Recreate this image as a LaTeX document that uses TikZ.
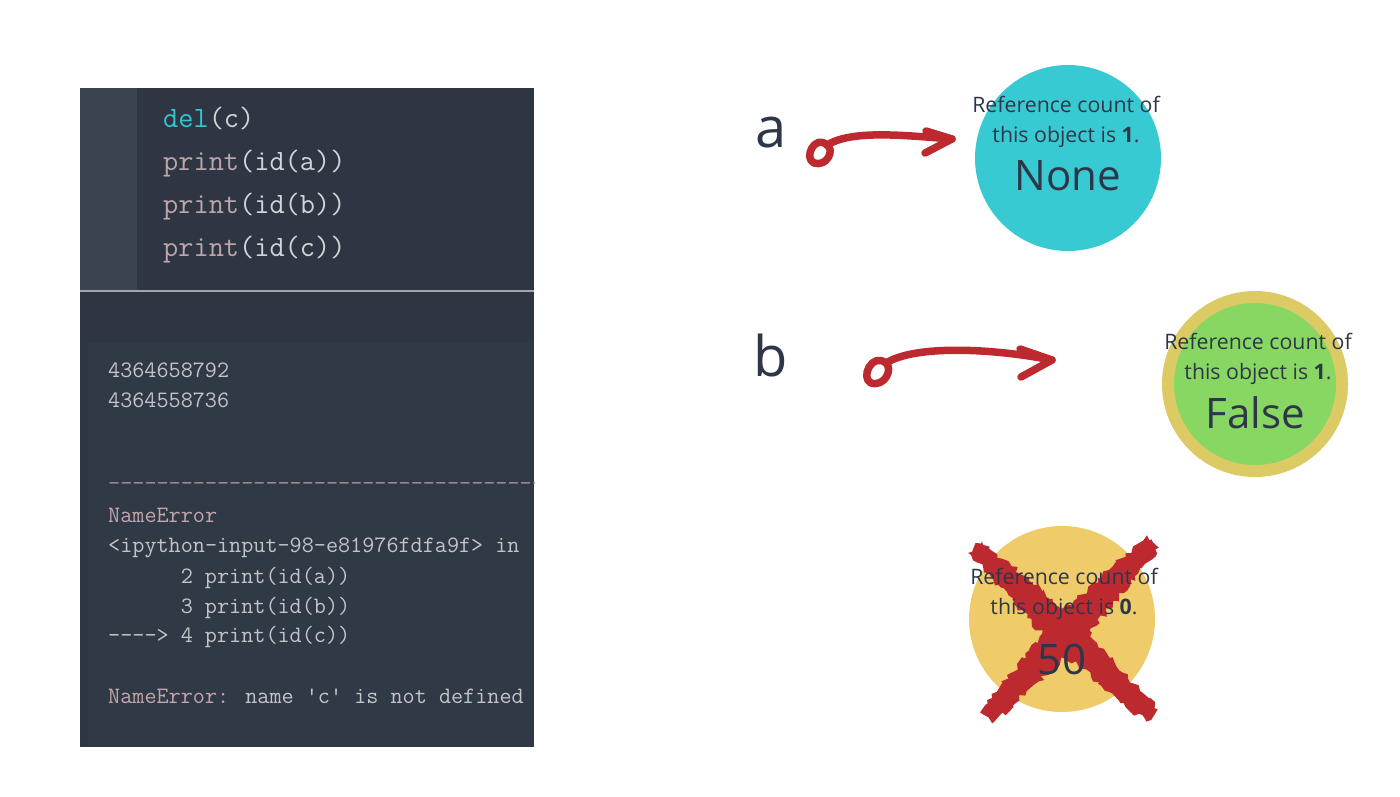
\documentclass[tikz,border=0pt]{standalone}
\usepackage{fontspec}
\setmainfont{Open Sans}
\usetikzlibrary{decorations.pathmorphing,patterns}
\definecolor{panel}{HTML}{2E3644}
\definecolor{gutter}{HTML}{3A4350}
\definecolor{outbg}{HTML}{303946}
\definecolor{sepline}{HTML}{A3A7AD}
\definecolor{kwcyan}{HTML}{36C5CF}
\definecolor{codegray}{HTML}{D2D4D8}
\definecolor{printc}{HTML}{BCA6AA}
\definecolor{outgray}{HTML}{C2C4C8}
\definecolor{errc}{HTML}{C2A6AA}
\definecolor{dashc}{HTML}{A88A90}
\definecolor{txtdark}{HTML}{2D3748}
\definecolor{cyanobj}{HTML}{38CAD2}
\definecolor{greenobj}{HTML}{88D762}
\definecolor{ringobj}{HTML}{DCCB64}
\definecolor{yellowobj}{HTML}{EFCB6A}
\definecolor{brushred}{HTML}{BC2A30}
\newcommand\hy{-\kern0pt}
\newcommand\dashrow{\count255=0 \loop\ifnum\count255<44 \hy\advance\count255 by 1 \repeat}
\begin{document}
\begin{tikzpicture}[x=1pt,y=-1pt,
  codeline/.style={anchor=base west, inner sep=0pt, font=\fontsize{29.5}{29.5}\ttfamily, text=codegray},
  outline/.style={anchor=base west, inner sep=0pt, font=\fontsize{23.5}{23.5}\ttfamily, text=outgray},
  objcircle/.style={circle, inner sep=0pt, minimum size=186pt},
  counttext/.style={align=center, inner sep=0pt, text=txtdark, font=\fontsize{21.3}{30}\selectfont},
  valtext/.style={inner sep=0pt, text=txtdark, font=\fontsize{42}{42}\selectfont},
  varlabel/.style={inner sep=0pt, text=txtdark, font=\fontsize{56}{56}\selectfont},
  brush/.style={draw=brushred, line width=7.5pt, line cap=round, line join=round},
  xstroke/.style={fill=brushred, decorate, decoration={random steps, segment length=4pt, amplitude=3pt}}
]
\useasboundingbox (0,0) rectangle (1400,796);
\fill[white] (0,0) rectangle (1400,796);

% ---------- code panel ----------
\fill[panel] (80,88) rectangle (534,747);
\fill[gutter] (80,88) rectangle (137,290);
\fill[outbg] (88,343) rectangle (534,747);
\draw[sepline, line width=2.5pt] (80,291) -- (534,291);

\node[codeline] (l1) at (163,127) {\textcolor{kwcyan}{del}(c)};
\node[codeline] (l2) at (163,170) {\textcolor{printc}{print}(id(a))};
\node[codeline] (l3) at (163,213) {\textcolor{printc}{print}(id(b))};
\node[codeline] (l4) at (163,256) {\textcolor{printc}{print}(id(c))};

\node[outline] (o1) at (108,377) {4364658792};
\node[outline] (o2) at (108,407) {4364558736};
\begin{scope}
\clip (80,88) rectangle (534,747);
\node[outline, text=dashc] (o3) at (108,490) {\dashrow};
\end{scope}
\node[outline, text=errc] (o4) at (108,522) {NameError};
\node[outline] (o5) at (108,552) {<ipython\hy input\hy 98\hy e81976fdfa9f> in};
\node[outline] (o6) at (108,583) {\ \ \ \ \ \ 2 print(id(a))};
\node[outline] (o7) at (108,613) {\ \ \ \ \ \ 3 print(id(b))};
\node[outline] (o8) at (108,642) {\hy\hy\hy\hy> 4 print(id(c))};
\node[outline] (o9) at (108,703) {\textcolor{errc}{NameError:} name 'c' is not defined};

% ---------- variables ----------
\node[varlabel] (va) at (771,133) {a};
\node[varlabel] (vb) at (771,355) {b};

% ---------- objects ----------
\node[objcircle, fill=cyanobj] (objA) at (1068,158) {};
\node[counttext] (ca) at (1066,122) {Reference count of\\this object is \textbf{1}.};
\node[valtext] (na) at (1068,176) {None};

\node[objcircle, fill=ringobj] (objB) at (1255,384) {};
\node[circle, inner sep=0pt, minimum size=162pt, fill=greenobj] (objBin) at (1255,384) {};
\node[counttext] (cb) at (1258,359) {Reference count of\\this object is \textbf{1}.};
\node[valtext] (nb) at (1255,413) {False};

\node[objcircle, fill=yellowobj] (objC) at (1062,619) {};
\pgfmathsetseed{7}
\fill[xstroke] (968.2,552.9) -- (1051,644) -- (1146.3,721.9) -- (1157.7,709.1) -- (1075,618) -- (981.7,541.1) -- cycle;
\fill[xstroke] (1158.9,547.7) -- (1082.5,642.1) -- (991.9,723.7) -- (980.1,712.3) -- (1056.5,616.9) -- (1147.1,535.3) -- cycle;
\node[counttext] (cc) at (1064,594) {Reference count of\\this object is \textbf{0}.};
\node[valtext] (nc) at (1062,659) {50};

% ---------- brush arrows ----------
\coordinate (aS) at (827,145);
\coordinate (aE) at (952,139);
\draw[brush] (aS) .. controls (815,134) and (803,158) .. (814,163) .. controls (827,167) and (835,150) .. (aS);
\draw[brush] (aS) .. controls (852,130) and (900,135) .. (aE);
\draw[brush] (926,131) -- (aE) -- (925,153);

\coordinate (bS) at (886,363);
\coordinate (bE) at (1052,360);
\draw[brush] (bS) .. controls (872,352) and (860,378) .. (871,383) .. controls (885,387) and (893,369) .. (bS);
\draw[brush] (bS) .. controls (915,345) and (990,348) .. (bE);
\draw[brush] (1020,349) -- (bE) -- (1021,377);
\end{tikzpicture}
\end{document}
